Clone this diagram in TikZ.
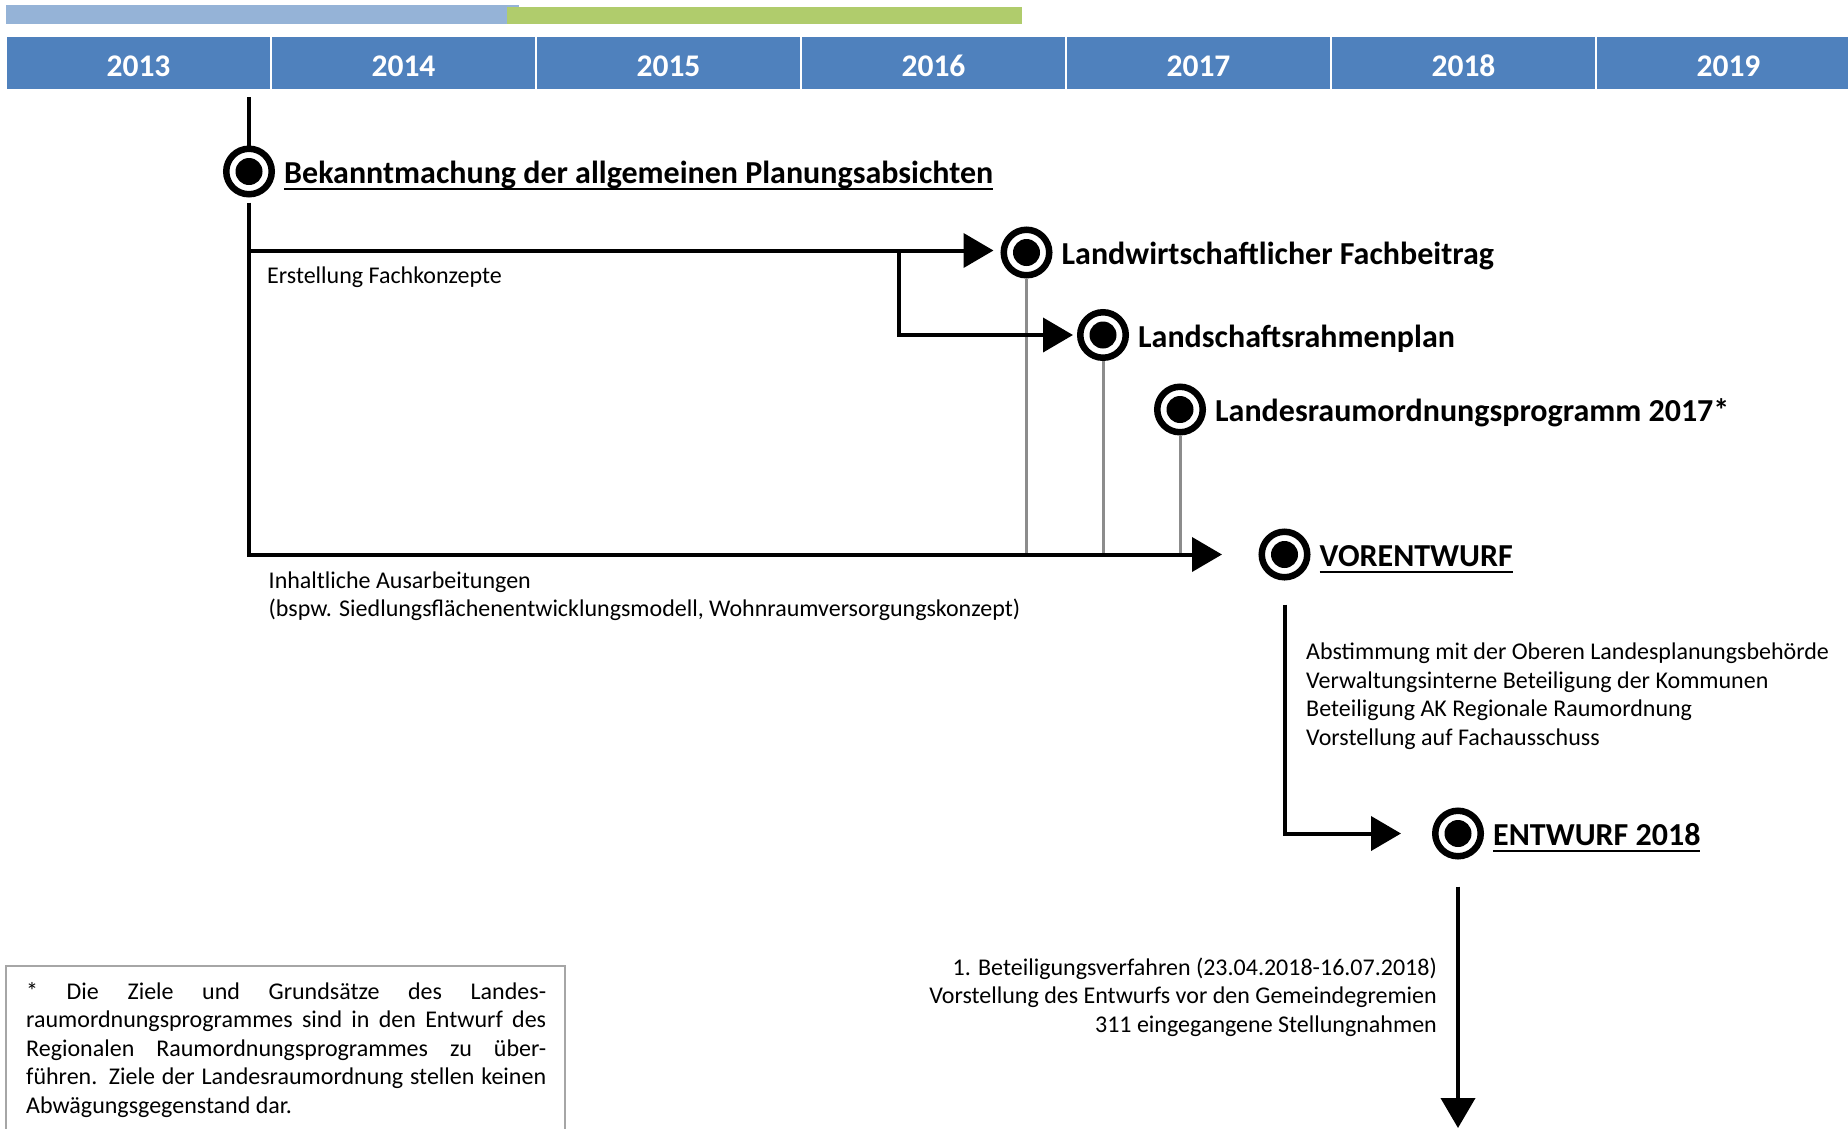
\documentclass[tikz,border=0pt]{standalone}
\usepackage{fontspec}
\setmainfont{Carlito}
\usetikzlibrary{arrows.meta}
\definecolor{hdr}{HTML}{4F81BD}
\definecolor{lblue}{HTML}{95B3D7}
\definecolor{lgreen}{HTML}{B0CC6C}
\definecolor{grayline}{HTML}{8C8C8C}
\definecolor{boxgray}{HTML}{A6A6A6}
\newcommand\myul[1]{\setbox0\hbox{#1}\leavevmode\rlap{\vrule height -4pt depth 6.5pt width \wd0}\box0}
\begin{document}
\begin{tikzpicture}[x=1pt,y=-1pt,
  ms/.style={circle,draw=black,line width=6.5pt,fill=white,minimum size=45.5pt,inner sep=0pt,
    path picture={\fill[black] (path picture bounding box.center) circle (13.5pt);}},
  title/.style={font=\fontsize{32}{38}\selectfont\bfseries,inner sep=0pt,anchor=base west,xshift=9pt,yshift=-12pt},
  txt/.style={font=\fontsize{24}{28.7}\selectfont,inner sep=0pt,anchor=base west},
  txtr/.style={txt,anchor=base east},
  year/.style={font=\fontsize{31.5}{38}\selectfont\bfseries,text=white,inner sep=0pt,anchor=base},
  blk/.style={line width=4pt,draw=black},
  arr/.style={line width=4pt,draw=black,-{Triangle[length=30pt,width=34pt]}},
  gry/.style={line width=3pt,draw=grayline}]
\useasboundingbox (0,0) rectangle (1848,1128);
% top bars
\fill[lblue] (6,5) rectangle (519,24);
\fill[lgreen] (507,7) rectangle (1022,24);
% year header
\foreach \i/\yr in {0/2013,1/2014,2/2015,3/2016,4/2017,5/2018,6/2019}{
  \fill[hdr] (7+265*\i,37) rectangle ++(263,52);
  \node[year] (y\yr) at (7+265*\i+131.5,76.5) {\yr};
}
% milestones
\node[ms] (m1) at (249,171.5) {};
\node[ms] (m2) at (1026.5,252.5) {};
\node[ms] (m3) at (1103,335) {};
\node[ms] (m4) at (1180,409.5) {};
\node[ms] (m5) at (1284.5,554.5) {};
\node[ms] (m6) at (1458,833.5) {};
\node[title] (t1) at (m1.east) {\myul{Bekanntmachung der allgemeinen Planungsabsichten}};
\node[title] (t2) at (m2.east) {Landwirtschaftlicher Fachbeitrag};
\node[title] (t3) at (m3.east) {Landschaftsrahmenplan};
\node[title] (t4) at (m4.east) {Landesraumordnungsprogramm 2017*};
\node[title] (t5) at (m5.east) {\myul{VORENTWURF}};
\node[title] (t6) at (m6.east) {\myul{ENTWURF 2018}};
% coordinates
\coordinate (top) at (249,97);
\coordinate (c1) at (249,250.5);
\coordinate (c2) at (m1 |- m5);
\coordinate (b1) at (899,250.5);
\coordinate (b2) at (b1 |- m3);
\coordinate (v1) at (m5 |- m6);
\coordinate (bot) at (1458,1128);
% gray lines
\draw[gry] (m2.south) -- (m2 |- c2);
\draw[gry] (m3.south) -- (m3 |- c2);
\draw[gry] (m4.south) -- (m4 |- c2);
% black connectors
\draw[blk] (top) -- (m1.north);
\draw[arr,shorten >=36.5pt] ([yshift=-5pt]m1.south) -- (c2) -- (m5.west);
\draw[arr,shorten >=7pt] (c1) -- (c1 -| m2.west);
\draw[arr,shorten >=4pt] (b1) -- (b2) -- (m3.west);
\draw[arr,shorten >=31pt] ([yshift=-24pt]m5.south) -- (v1) -- (m6.west);
\draw[arr] ([yshift=-27pt]m6.south) -- (bot);
% texts
\node[txt] (e1) at (267,283) {Erstellung Fachkonzepte};
\node[txt] (i1) at (268.5,588) {Inhaltliche Ausarbeitungen};
\node[txt] (i2) at (268.5,616.7) {(bspw. Siedlungsflächenentwicklungsmodell, Wohnraumversorgungskonzept)};
\node[txt] (r1) at (1306,659.5) {Abstimmung mit der Oberen Landesplanungsbehörde};
\node[txt] (r2) at (1306,688.2) {Verwaltungsinterne Beteiligung der Kommunen};
\node[txt] (r3) at (1306,716.9) {Beteiligung AK Regionale Raumordnung};
\node[txt] (r4) at (1306,745.6) {Vorstellung auf Fachausschuss};
\node[txtr] (s1) at (1437,975.5) {1. Beteiligungsverfahren (23.04.2018-16.07.2018)};
\node[txtr] (s2) at (1437,1003.8) {Vorstellung des Entwurfs vor den Gemeindegremien};
\node[txtr] (s3) at (1437,1032.1) {311 eingegangene Stellungnahmen};
% footnote box
\draw[boxgray,line width=2pt] (6,1140) -- (6,966) -- (565,966) -- (565,1140);
\node[txt] (f1) at (26,999) {\makebox[520pt][s]{* Die Ziele und Grundsätze des Landes-}};
\node[txt] (f2) at (26,1027.5) {\makebox[520pt][s]{raumordnungsprogrammes sind in den Entwurf des}};
\node[txt] (f3) at (26,1056) {\makebox[520pt][s]{Regionalen Raumordnungsprogrammes zu über-}};
\node[txt] (f4) at (26,1084.5) {\makebox[520pt][s]{führen. Ziele der Landesraumordnung stellen keinen}};
\node[txt] (f5) at (26,1113) {Abwägungsgegenstand dar.};
\end{tikzpicture}
\end{document}
